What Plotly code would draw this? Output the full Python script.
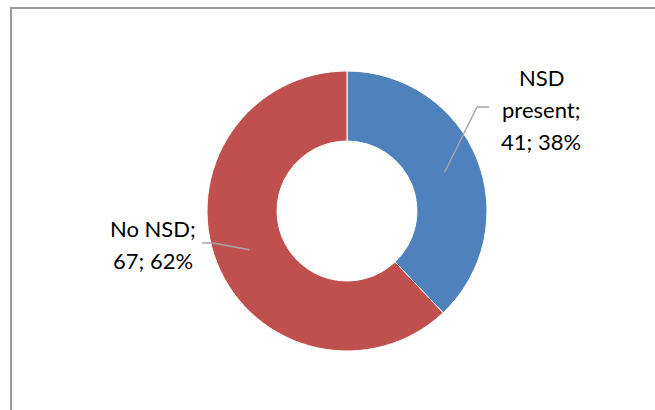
import math
import plotly.graph_objects as go

# Data
labels = ["NSD present", "No NSD"]
label_lines = [["NSD", "present;"], ["No NSD;"]]
values = [41, 67]
colors = ["#4F81BD", "#C0504D"]

W, H = 655, 410
cx, cy, R = 347, 211, 140
hole = 0.5

def px(x):
    return x / W

def py(y):
    return 1 - y / H

fig = go.Figure(go.Pie(
    labels=labels, values=values, hole=hole, sort=False,
    direction="clockwise", rotation=0,
    marker=dict(colors=colors, line=dict(color="white", width=1)),
    textinfo="none", hoverinfo="label+value+percent",
    domain=dict(x=[px(cx - R), px(cx + R)], y=[py(cy + R), py(cy - R)]),
    showlegend=False,
))

total = sum(values)
# label layout: (elbow x, elbow y, end x, text center x, line y centers)
layout_pos = [
    dict(ex=477, ey=107, tx=489, lx=541, ly=[78, 109.5, 141]),
    dict(ex=213, ey=243, tx=202, lx=153, ly=[228, 260]),
]

shapes = []
annotations = []
cum = 0
for i, v in enumerate(values):
    mid = (cum + v / 2) / total * 2 * math.pi
    cum += v
    r = R * (1 + hole) / 2
    x0 = cx + r * math.sin(mid)
    y0 = cy - r * math.cos(mid)
    p = layout_pos[i]
    shapes.append(dict(type="line", xref="paper", yref="paper",
                       x0=px(x0), y0=py(y0), x1=px(p["ex"]), y1=py(p["ey"]),
                       line=dict(color="#A6A6A6", width=1.5)))
    shapes.append(dict(type="line", xref="paper", yref="paper",
                       x0=px(p["ex"]), y0=py(p["ey"]), x1=px(p["tx"]), y1=py(p["ey"]),
                       line=dict(color="#A6A6A6", width=1.5)))
    pct = round(v / total * 100)
    lines = label_lines[i] + [f"{v}; {pct}%"]
    for j, t in enumerate(lines):
        annotations.append(dict(text=t, xref="paper", yref="paper",
                                x=px(p["lx"]), y=py(p["ly"][j]),
                                xanchor="center", yanchor="middle",
                                showarrow=False,
                                font=dict(family="Lato", size=22, color="#000000")))

# chart frame (top and left edges; the rest lies outside the view)
shapes.append(dict(type="line", xref="paper", yref="paper",
                   x0=px(10), y0=py(8), x1=1.0, y1=py(8),
                   line=dict(color="#9A9A9A", width=2)))
shapes.append(dict(type="line", xref="paper", yref="paper",
                   x0=px(11), y0=py(7), x1=px(11), y1=0.0,
                   line=dict(color="#9A9A9A", width=2)))

fig.update_layout(width=W, height=H, margin=dict(l=0, r=0, t=0, b=0),
                  paper_bgcolor="white", plot_bgcolor="white",
                  shapes=shapes, annotations=annotations)

fig.write_html("out.html", config={"displayModeBar": False, "staticPlot": True},
               post_script=("document.body.style.margin='0';"
                            "document.body.style.overflow='hidden';"
                            "document.documentElement.style.overflow='hidden';"))
